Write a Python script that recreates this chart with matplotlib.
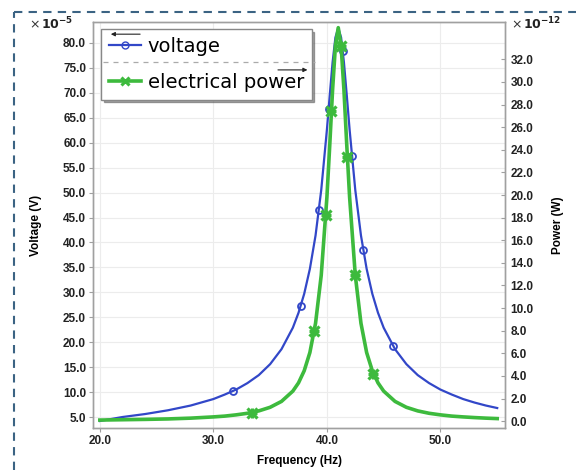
import matplotlib
matplotlib.use("Agg")
import matplotlib.pyplot as plt
from matplotlib.lines import Line2D

# frequency grid (Hz)
freq = [20, 22, 24, 26, 28, 30, 31, 32, 33, 34, 35, 36, 37, 37.5, 38, 38.5,
        39, 39.5, 40, 40.25, 40.5, 40.75, 41, 41.25, 41.5, 41.75, 42, 42.5,
        43, 43.5, 44, 44.5, 45, 46, 47, 48, 49, 50, 51, 52, 53, 54, 55]

# voltage, x 1e-5 V
voltage = [4.2, 5.0, 5.6, 6.35, 7.3, 8.6, 9.5, 10.5, 11.8, 13.4, 15.6, 18.6,
           22.9, 25.9, 29.7, 34.7, 41.4, 50.5, 62.6, 69.5, 76.1, 81.1, 83.0,
           81.1, 76.1, 69.5, 62.6, 50.5, 41.4, 34.7, 29.7, 25.9, 22.9, 18.6,
           15.6, 13.4, 11.8, 10.5, 9.5, 8.6, 7.9, 7.3, 6.8]

# electrical power, x 1e-12 W
power = [0.10, 0.13, 0.16, 0.20, 0.27, 0.38, 0.45, 0.56, 0.70, 0.91, 1.23,
         1.75, 2.66, 3.39, 4.46, 6.07, 8.66, 12.9, 19.8, 24.4, 29.3, 33.2,
         34.8, 33.2, 29.3, 24.4, 19.8, 12.9, 8.66, 6.07, 4.46, 3.39, 2.66,
         1.75, 1.23, 0.91, 0.70, 0.56, 0.45, 0.38, 0.32, 0.27, 0.23]

# marker positions
volt_mark_f = [31.7, 37.7, 39.3, 40.15, 41.4, 42.2, 43.2, 45.8]
volt_mark_v = [10.2, 27.3, 46.5, 66.8, 78.4, 57.4, 38.4, 19.3]
power_mark_f = [33.4, 38.9, 39.9, 40.4, 41.25, 41.8, 42.5, 44.1]
power_mark_p = [0.75, 8.0, 18.2, 27.4, 33.2, 23.4, 12.9, 4.2]

volt_ticks = [5 * i for i in range(1, 17)]
power_ticks = [2 * i for i in range(0, 17)]
freq_ticks = [20, 30, 40, 50]

BLUE = "#3247c8"
GREEN = "#3dba3d"
SPINE = "#a0a0a0"

plt.rcParams["font.family"] = ["Liberation Sans", "DejaVu Sans"]

fig = plt.figure(figsize=(5.76, 4.70), dpi=100)
ax = fig.add_axes([0.1615, 0.0894, 0.7155, 0.8638])
ax2 = ax.twinx()

ax.plot(freq, voltage, color=BLUE, lw=1.6, zorder=3)
ax.plot(volt_mark_f, volt_mark_v, "o", color=BLUE, mfc="none", ms=5, mew=1.3, zorder=3)
ax2.plot(freq, power, color=GREEN, lw=2.6, zorder=3)
ax2.plot(power_mark_f, power_mark_p, "x", color=GREEN, ms=7, mew=2.3, zorder=3)
ax2.plot(power_mark_f, power_mark_p, "+", color=GREEN, ms=7, mew=2.3, zorder=3)

ax.set_xlim(19.4, 55.7)
ax.set_ylim(2.8, 84.2)
ax2.set_ylim(-0.6, 35.3)

ax.set_xticks(freq_ticks)
ax.set_xticklabels([f"{t:.1f}" for t in freq_ticks])
ax.set_yticks(volt_ticks)
ax.set_yticklabels([f"{t:.1f}" for t in volt_ticks])
ax2.set_yticks(power_ticks)
ax2.set_yticklabels([f"{t:.1f}" for t in power_ticks])

ax.grid(True, color="#ececec", lw=0.8)
ax.set_axisbelow(True)
for a in (ax, ax2):
    for s in a.spines.values():
        s.set_color(SPINE)
        s.set_linewidth(1.0)
ax.tick_params(axis="both", length=3, color=SPINE, labelsize=8.5, pad=2)
ax2.tick_params(axis="y", direction="in", length=3, color=SPINE, labelsize=8.5, pad=4)
for lab in ax.get_xticklabels() + ax.get_yticklabels() + ax2.get_yticklabels():
    lab.set_fontweight("bold")
    lab.set_color("#222222")

ax.set_xlabel("Frequency (Hz)", fontsize=8.5, fontweight="bold", labelpad=6)
ax.set_ylabel("Voltage (V)", fontsize=8.5, fontweight="bold", labelpad=15)
ax2.set_ylabel("Power (W)", fontsize=8.5, fontweight="bold", labelpad=13)

fig.text(0.050, 0.947, r"$\times\,$", fontsize=9, ha="left", va="center", color="#333333")
fig.text(0.072, 0.950, r"$\mathbf{10^{-5}}$", fontsize=9, ha="left", va="center", color="#222222")
fig.text(0.888, 0.947, r"$\times\,$", fontsize=9, ha="left", va="center", color="#333333")
fig.text(0.908, 0.950, r"$\mathbf{10^{-12}}$", fontsize=9, ha="left", va="center", color="#222222")

# legend
handles = [Line2D([], [], color=BLUE, lw=1.6, marker="o", mfc="none", ms=5),
           Line2D([], [], color=GREEN, lw=2.6, marker="x", ms=6, mew=2.2)]
leg = ax2.legend(handles, ["voltage", "electrical power"], loc="upper left",
                 bbox_to_anchor=(0.019, 0.983), borderaxespad=0,
                 prop={"family": "DejaVu Sans", "size": 14},
                 labelspacing=0.88, handlelength=1.65, handletextpad=0.35,
                 borderpad=0.4, fancybox=False, shadow=True, framealpha=1,
                 edgecolor="#888888")
leg.get_frame().set_linewidth(1.0)
leg.set_zorder(6)
ax2.annotate("", xy=(0.0364, 0.970), xytext=(0.121, 0.970), xycoords="axes fraction",
             arrowprops=dict(arrowstyle="-|>", color="#222222", lw=0.8, mutation_scale=6),
             zorder=10)
ax2.annotate("", xy=(0.527, 0.882), xytext=(0.442, 0.882), xycoords="axes fraction",
             arrowprops=dict(arrowstyle="-|>", color="#222222", lw=0.8, mutation_scale=6),
             zorder=10)
ax2.plot([0.024, 0.539], [0.901, 0.901], transform=ax2.transAxes, color="#aaaaaa",
         lw=0.9, ls=(0, (4, 4)), zorder=10)

# dashed frame around the figure
fig.add_artist(Line2D([0.0243, 0.0243], [0.0, 0.9745], color="#3b6383", lw=1.5, ls=(0, (4, 3))))
fig.add_artist(Line2D([0.0243, 1.0], [0.9745, 0.9745], color="#3b6383", lw=1.5, ls=(0, (4, 3))))

fig.savefig("out.png", dpi=100)
